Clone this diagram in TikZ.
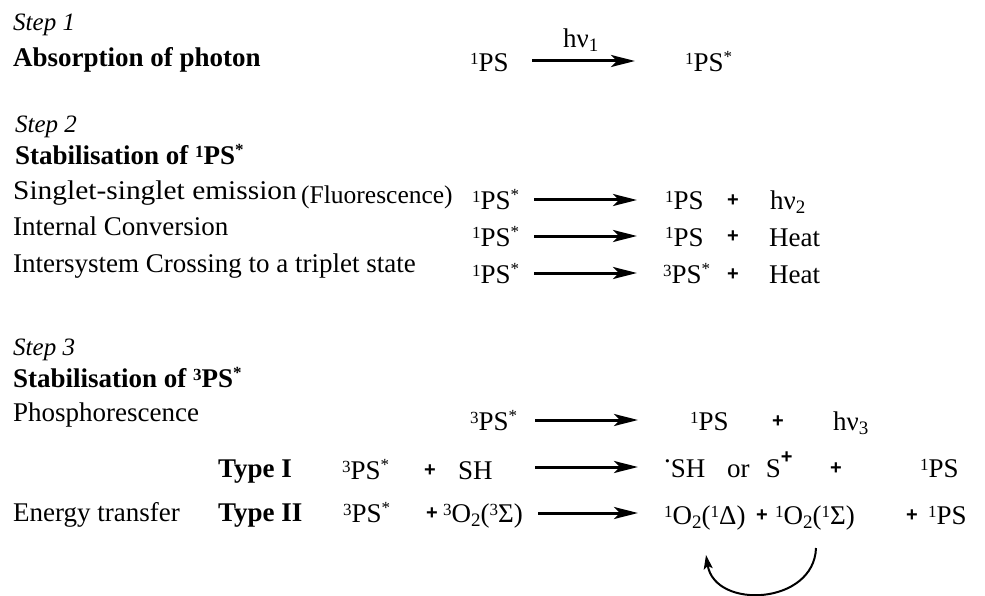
\documentclass[tikz,border=0pt]{standalone}
\usepackage{fontspec}
\setmainfont{Liberation Serif}
\newfontfamily\plusf{Liberation Sans}
\usetikzlibrary{arrows.meta}
\newcommand{\up}[1]{{\fontsize{17}{20}\selectfont\raisebox{7pt}{#1}}}
\newcommand{\st}{{\fontsize{17}{20}\selectfont\raisebox{9pt}{*}}}
\newcommand{\dn}[1]{{\fontsize{19}{20}\selectfont\raisebox{-4pt}{#1}}}
\newcommand{\rad}{\raisebox{0.55em}{.}}
\tikzset{
  txt/.style={anchor=base west, inner sep=0pt, font=\fontsize{27}{32}\selectfont},
  stp/.style={txt, font=\fontsize{25}{30}\selectfont\itshape},
  hdr/.style={txt, font=\fontsize{27}{32}\selectfont\bfseries},
  pls/.style={anchor=base, inner sep=0pt, font=\plusf\bfseries\fontsize{20}{24}\selectfont},
  rxn/.style={line width=3pt, -{Stealth[length=24pt,width=12pt,inset=6pt]}},
  cur/.style={line width=2pt, -{Stealth[length=14pt,width=9pt,inset=3pt]}}
}
\begin{document}
\begin{tikzpicture}[x=1pt,y=-1pt]
\useasboundingbox (0,0) rectangle (985,596);
% Step 1
\node[stp] (s1) at (13,31) {Step 1};
\node[hdr] (h1) at (13,67) {Absorption of photon};
\node[txt] (a1) at (470,72) {\up{1}PS};
\node[txt] (b1) at (685,72) {\up{1}PS\st};
\coordinate (a1e) at (532,61);
\coordinate (b1e) at (635,61);
\draw[rxn] (a1e) -- (b1e);
\node[txt] (hv1) at (563,48) {hν\dn{1}};
% Step 2
\node[stp] (s2) at (15,133) {Step 2};
\node[hdr] (h2) at (15,165) {Stabilisation of \up{1}PS\st};
\node[txt] (l21) at (13,200) {\scalebox{1.09}[1]{Singlet-singlet emission}};
\node[txt, font=\fontsize{25.5}{30}\selectfont] (l21b) at (301,204) {(Fluorescence)};
\node[txt] (l22) at (13,236) {Internal Conversion};
\node[txt] (l23) at (13,272) {Intersystem Crossing to a triplet state};
\foreach \i/\y in {1/210,2/246,3/283}{
  \node[txt] (r2\i) at (472,\y) {\up{1}PS\st};
  \coordinate (r2\i e) at (534,\y-10);
  \coordinate (p2\i e) at (637,\y-10);
  \draw[rxn] (r2\i e) -- (p2\i e);
  \node[pls] (pl2\i) at (733,\y-3) {+};
}
\node[txt] (p21) at (665,210) {\up{1}PS};
\node[txt] (q21) at (770,210) {hν\dn{2}};
\node[txt] (p22) at (665,246) {\up{1}PS};
\node[txt] (q22) at (769,246) {Heat};
\node[txt] (p23) at (663,283) {\up{3}PS\st};
\node[txt] (q23) at (769,283) {Heat};
% Step 3
\node[stp] (s3) at (13,355) {Step 3};
\node[hdr] (h3) at (13,387) {Stabilisation of \up{3}PS\st};
\node[txt] (l31) at (13,421) {Phosphorescence};
\node[txt] (r31) at (470,430) {\up{3}PS\st};
\coordinate (r31e) at (535,420);
\coordinate (p31e) at (638,420);
\draw[rxn] (r31e) -- (p31e);
\node[txt] (p31) at (690,430) {\up{1}PS};
\node[pls] (pl31) at (778,427) {+};
\node[txt] (q31) at (833,430) {hν\dn{3}};
% Type I
\node[hdr] (t1) at (218,477) {Type I};
\node[txt] (r32) at (342,479) {\up{3}PS\st};
\node[pls] (pl32) at (430,476) {+};
\node[txt] (sh) at (458,479) {SH};
\coordinate (r32e) at (535,467);
\coordinate (p32e) at (638,467);
\draw[rxn] (r32e) -- (p32e);
\node[txt] (p32) at (664,477) {\rad SH\hspace{0.8em}or\hspace{0.6em}S\raisebox{0.5em}{\plusf\bfseries\fontsize{20}{24}\selectfont +}};
\node[pls] (pl32b) at (836,474) {+};
\node[txt] (q32) at (920,477) {\up{1}PS};
% Type II
\node[txt] (l33) at (13,521) {Energy transfer};
\node[hdr] (t2) at (218,521) {Type II};
\node[txt] (r33) at (343,522) {\up{3}PS\st};
\node[pls] (pl33) at (432,519) {+};
\node[txt] (ox) at (443,522) {\up{3}O\dn{2}(\up{3}Σ)};
\coordinate (r33e) at (538,513);
\coordinate (p33e) at (638,513);
\draw[rxn] (r33e) -- (p33e);
\node[txt] (p33) at (664,524) {\up{1}O\dn{2}(\up{1}Δ)};
\node[pls] (pl33b) at (762,521) {+};
\node[txt] (p33b) at (775,524) {\up{1}O\dn{2}(\up{1}Σ)};
\node[pls] (pl33c) at (912,521) {+};
\node[txt] (q33) at (928,524) {\up{1}PS};
% curved arrow
\coordinate (cs) at (816,548);
\coordinate (ce) at (706,555);
\draw[cur] (cs) .. controls (814,605) and (715,610) .. (ce);
\end{tikzpicture}
\end{document}
